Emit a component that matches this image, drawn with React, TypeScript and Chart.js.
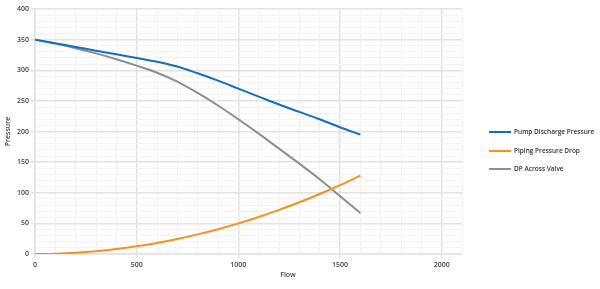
import React, { useEffect, useRef } from "react";
import { Chart, registerables } from "chart.js";

Chart.register(...registerables);

const flow = [0, 100, 200, 300, 400, 500, 600, 700, 800, 900, 1000, 1100, 1200, 1300, 1400, 1500, 1600];
const pumpDischarge = [350, 344, 338, 332, 326, 320, 314, 306, 295, 283, 270, 257, 244, 232, 220, 207, 195];
const pipingDrop = [0, 0.5, 2, 4.5, 8, 12.5, 18, 24.5, 32, 40.5, 50, 60.5, 72, 84.5, 98, 112.5, 128];
const dpValve = [350, 343.5, 336, 327.5, 318, 307.5, 296, 281.5, 263, 242.5, 220, 196.5, 172, 147.5, 122, 94.5, 67];

const seriesNames = ["Pump Discharge Pressure", "Piping Pressure Drop", "DP Across Valve"];
const seriesColors = ["#1270bd", "#f7901e", "#8e8e8e"];
const xTitle = "Flow";
const yTitle = "Pressure";

const FONT = "'Open Sans', sans-serif";

export default function App() {
  const ref = useRef<HTMLCanvasElement>(null);
  useEffect(() => {
    document.body.style.margin = "0";
    const values = [pumpDischarge, pipingDrop, dpValve];
    const datasets = values.map((v, i) => ({
      label: seriesNames[i],
      data: flow.map((f, j) => ({ x: f, y: v[j] })),
      borderColor: seriesColors[i],
      backgroundColor: seriesColors[i],
      borderWidth: 2,
      pointRadius: 0,
      cubicInterpolationMode: "monotone" as const,
      fill: false,
    }));

    const customDraw = {
      id: "customDraw",
      afterDraw(chart: any) {
        const ctx = chart.ctx;
        const area = chart.chartArea;
        ctx.save();
        // legend
        ctx.font = `600 6.5px ${FONT}`;
        ctx.textBaseline = "middle";
        ctx.textAlign = "left";
        const lx = area.right + 27;
        const ys = [132, 151, 169];
        seriesNames.forEach((n, i) => {
          ctx.strokeStyle = seriesColors[i];
          ctx.lineWidth = 2;
          ctx.beginPath();
          ctx.moveTo(lx, ys[i]);
          ctx.lineTo(lx + 22, ys[i]);
          ctx.stroke();
          ctx.fillStyle = "#333";
          ctx.fillText(n, lx + 25, ys[i]);
        });
        // x title
        ctx.fillStyle = "#444";
        ctx.textAlign = "center";
        ctx.font = `600 7px ${FONT}`;
        ctx.fillText(xTitle, 288, 275);
        ctx.restore();
      },
    };

    const chart = new Chart(ref.current!, {
      type: "line",
      data: { datasets },
      options: {
        animation: false,
        responsive: true,
        maintainAspectRatio: false,
        layout: { padding: { top: 9, right: 138, left: 0, bottom: 0 } },
        plugins: {
          legend: { display: false },
          tooltip: { enabled: false },
        },
        scales: {
          x: {
            type: "linear",
            min: 0,
            max: 2100,
            ticks: {
              stepSize: 100,
              autoSkip: false,
              maxRotation: 0,
              color: "#444",
              font: { family: FONT, size: 7, weight: 600 },
              padding: 3,
              callback: (v: any) => (v % 500 === 0 ? String(v) : ""),
            },
            grid: {
              color: (c: any) => (c.tick && c.tick.value % 500 === 0 ? "#e2e2e2" : "#f3f3f3"),
              lineWidth: (c: any) => (c.tick && c.tick.value % 500 === 0 ? 1.5 : 1),
              tickLength: 4,
              tickColor: (c: any) => (c.tick && c.tick.value % 500 === 0 ? "#e2e2e2" : "rgba(0,0,0,0)"),
            },
            border: { color: "#e2e2e2", width: 1.5 },
            afterFit: (s: any) => {
              s.height = 35;
            },
          },
          y: {
            type: "linear",
            min: 0,
            max: 400,
            ticks: {
              stepSize: 10,
              autoSkip: false,
              color: "#444",
              font: { family: FONT, size: 7, weight: 600 },
              padding: 2,
              callback: (v: any) => (v % 50 === 0 ? String(v) : ""),
            },
            grid: {
              color: (c: any) => (c.tick && c.tick.value % 50 === 0 ? "#e2e2e2" : "#f3f3f3"),
              lineWidth: (c: any) => (c.tick && c.tick.value % 50 === 0 ? 1.5 : 1),
              tickLength: 4,
              tickColor: (c: any) => (c.tick && c.tick.value % 50 === 0 ? "#e2e2e2" : "rgba(0,0,0,0)"),
            },
            border: { color: "#e2e2e2", width: 1.5 },
            title: {
              display: true,
              text: yTitle,
              color: "#444",
              font: { family: FONT, size: 7, weight: 600 },
              padding: { top: 4, bottom: 0 },
            },
            afterFit: (s: any) => {
              s.width = 35;
            },
          },
        },
      },
      plugins: [customDraw],
    });
    return () => chart.destroy();
  }, []);

  return (
    <div style={{ width: 600, height: 289, position: "relative" }}>
      <canvas ref={ref} />
    </div>
  );
}
